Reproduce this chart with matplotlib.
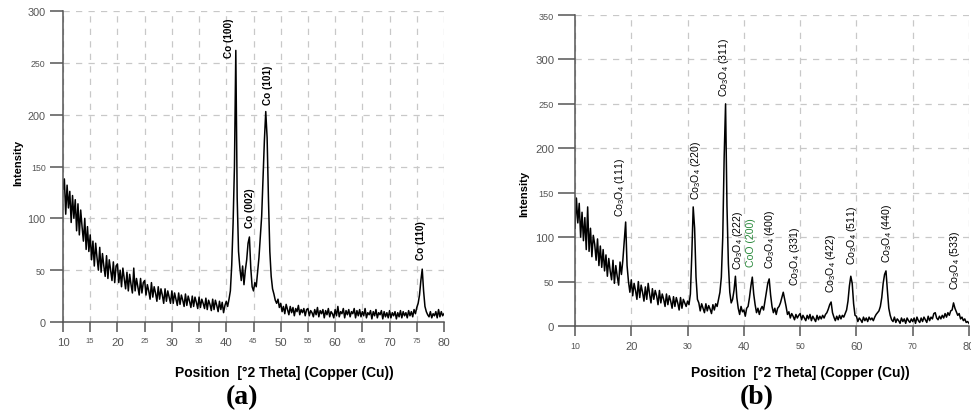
import numpy as np
import matplotlib
matplotlib.use('Agg')
import matplotlib.pyplot as plt

plt.rcParams['font.family'] = ['Liberation Sans', 'DejaVu Sans']
plt.rcParams['mathtext.default'] = 'regular'

# ---------------- data ----------------
SCAN_START = 10.0   # deg 2theta
SCAN_STEP = 0.25    # deg 2theta

# (a) Co sample, intensity read every 0.25 deg from 10 to 80
intensity_a = [
    128, 138, 104, 132, 110, 126, 96, 122, 100, 118, 88, 114, 84, 108, 92, 78, 100, 70, 92, 68,
    84, 60, 78, 54, 76, 62, 50, 72, 48, 66, 54, 44, 64, 42, 60, 50, 40, 58, 38, 54,
    56, 38, 50, 34, 52, 42, 32, 48, 30, 46, 36, 28, 52, 30, 42, 34, 26, 42, 28, 38,
    40, 26, 36, 30, 22, 38, 24, 34, 28, 20, 34, 22, 32, 26, 18, 32, 20, 30, 24, 18,
    30, 18, 28, 22, 16, 28, 17, 26, 21, 15, 27, 16, 25, 20, 14, 25, 15, 24, 19, 13,
    24, 14, 22, 18, 13, 23, 12, 21, 17, 11, 22, 12, 21, 16, 10, 20, 12, 19, 9, 16,
    20, 15, 22, 30, 55, 95, 150, 262, 120, 68, 52, 40, 54, 36, 50, 60, 76, 82, 52, 34,
    30, 38, 34, 48, 62, 82, 102, 140, 175, 203, 178, 118, 68, 44, 32, 27, 21, 18, 22, 14,
    18, 10, 15, 8, 17, 12, 7, 15, 9, 14, 6, 13, 10, 16, 7, 12, 9, 13, 6, 12,
    13, 6, 11, 9, 5, 12, 7, 14, 5, 11, 8, 12, 4, 11, 7, 13, 5, 10, 8, 4,
    12, 6, 15, 5, 10, 8, 13, 4, 11, 7, 12, 5, 10, 8, 13, 4, 11, 6, 12, 5,
    10, 6, 13, 4, 9, 7, 11, 3, 10, 6, 12, 4, 9, 7, 11, 3, 10, 5, 9, 4,
    11, 4, 9, 6, 10, 3, 9, 5, 11, 4, 10, 6, 9, 4, 11, 6, 10, 5, 12, 8,
    14, 18, 26, 40, 51, 30, 15, 10, 7, 5, 10, 4, 8, 6, 10, 4, 12, 5, 10, 6,
    8,
]

# (b) Co3O4 sample, intensity read every 0.25 deg from 10 to 80
intensity_b = [
    110, 144, 116, 138, 100, 128, 96, 122, 86, 134, 84, 110, 78, 102, 92, 74, 98, 68, 90, 66,
    86, 62, 80, 56, 76, 62, 52, 74, 48, 68, 56, 46, 72, 58, 74, 96, 117, 68, 50, 38,
    52, 34, 48, 40, 30, 50, 32, 46, 38, 28, 44, 30, 48, 36, 26, 42, 30, 40, 34, 24,
    40, 26, 36, 30, 22, 36, 24, 34, 28, 20, 33, 22, 32, 26, 18, 32, 20, 30, 26, 22,
    28, 24, 36, 80, 134, 110, 55, 30, 26, 17, 25, 20, 15, 25, 17, 23, 19, 14, 24, 18,
    25, 22, 30, 38, 55, 100, 190, 250, 135, 70, 38, 26, 30, 40, 56, 32, 20, 13, 22, 16,
    18, 11, 20, 22, 32, 45, 55, 36, 24, 15, 20, 13, 19, 22, 18, 28, 38, 48, 53, 35,
    22, 15, 20, 13, 20, 22, 26, 32, 38, 30, 22, 13, 16, 9, 14, 11, 7, 13, 9, 12,
    14, 7, 12, 9, 6, 12, 8, 13, 6, 11, 8, 5, 12, 7, 11, 8, 12, 9, 13, 15,
    19, 24, 27, 15, 10, 6, 11, 7, 12, 8, 12, 10, 14, 18, 28, 45, 56, 48, 25, 12,
    11, 5, 9, 7, 4, 10, 6, 9, 5, 10, 7, 9, 6, 10, 13, 15, 17, 22, 32, 48,
    58, 62, 40, 20, 12, 7, 5, 10, 4, 8, 6, 3, 9, 5, 8, 3, 9, 6, 4, 8,
    5, 9, 3, 10, 6, 4, 9, 5, 10, 7, 4, 11, 6, 10, 8, 14, 15, 9, 7, 11,
    8, 12, 9, 14, 10, 15, 12, 17, 18, 26, 20, 16, 12, 14, 8, 10, 6, 8, 4, 5,
    3,
]

labels_a = ['Co (100)', 'Co (002)', 'Co (101)', 'Co (110)']
labels_b = ['Co$_3$O$_4$ (111)', 'Co$_3$O$_4$ (220)', 'Co$_3$O$_4$ (311)',
            'Co$_3$O$_4$ (222)', 'CoO (200)', 'Co$_3$O$_4$ (400)',
            'Co$_3$O$_4$ (331)', 'Co$_3$O$_4$ (422)', 'Co$_3$O$_4$ (511)',
            'Co$_3$O$_4$ (440)', 'Co$_3$O$_4$ (533)']

xticks_a = [10, 15, 20, 25, 30, 35, 40, 45, 50, 55, 60, 65, 70, 75, 80]
yticks_a = [0, 50, 100, 150, 200, 250, 300]
xticks_b = [10, 20, 30, 40, 50, 60, 70, 80]
yticks_b = [0, 50, 100, 150, 200, 250, 300, 350]

# ---------------- layout / style ----------------
W, H = 971, 414
# label anchors (x, y-bottom) in data coords
anchors_a = [(40.5, 256), (44.35, 92), (47.6, 210), (75.7, 61)]
anchors_b = [(18.0, 124), (31.5, 143), (36.5, 259), (38.9, 64), (41.3, 67),
             (44.7, 65), (49.1, 46), (55.4, 38), (59.3, 70), (65.5, 72), (77.6, 42)]
colors_b = ['black'] * 4 + ['#2a8a3c'] + ['black'] * 6

AX_GRAY = '#555555'
GRID_GRAY = '#c8c8c8'

fig = plt.figure(figsize=(W / 100, H / 100), dpi=100)
ax1 = fig.add_axes([63 / W, 1 - 323 / H, (444 - 63) / W, (323 - 12) / H])
ax2 = fig.add_axes([575 / W, 1 - 327 / H, (969 - 575) / W, (327 - 16) / H])


def style_axes(ax, xt, yt, ylim, xsmall, ysmall, xbig_fs, xsmall_fs, ybig_fs, ysmall_fs, ytick_len):
    ax.set_xlim(10, 80)
    ax.set_ylim(*ylim)
    ax.set_xticks(xt, [str(v) for v in xt])
    ax.set_yticks(yt, [str(v) for v in yt])
    for lab, v in zip(ax.get_xticklabels(), xt):
        lab.set_fontsize(xsmall_fs if v in xsmall else xbig_fs)
        lab.set_color(AX_GRAY)
    for lab, v in zip(ax.get_yticklabels(), yt):
        lab.set_fontsize(ysmall_fs if v in ysmall else ybig_fs)
        lab.set_color(AX_GRAY)
    for s in ['top', 'right']:
        ax.spines[s].set_visible(False)
    for s in ['left', 'bottom']:
        ax.spines[s].set_color(AX_GRAY)
        ax.spines[s].set_linewidth(1.1)
    ax.tick_params(axis='y', direction='out', length=ytick_len, width=1.1, color=AX_GRAY, pad=3)
    ax.tick_params(axis='x', direction='out', length=7, width=1.1, color=AX_GRAY, pad=4)
    ax.set_axisbelow(True)
    ax.grid(True, color=GRID_GRAY, linestyle=(0, (5, 5)), linewidth=0.9)


tt_a = SCAN_START + SCAN_STEP * np.arange(len(intensity_a))
tt_b = SCAN_START + SCAN_STEP * np.arange(len(intensity_b))

ax1.plot(tt_a, intensity_a, color='black', linewidth=1.1)
ax2.plot(tt_b, intensity_b, color='black', linewidth=1.1)

style_axes(ax1, xticks_a, yticks_a, (0, 300), [15, 25, 35, 45, 55, 65, 75], [50, 150, 250],
           8.2, 5.5, 7.8, 6.3, 9.5)
style_axes(ax2, xticks_b, yticks_b, (0, 350), [10, 30, 50, 70], [50, 150, 250, 350],
           8.0, 6.3, 8.2, 6.6, 12)

for lab, (x, y) in zip(labels_a, anchors_a):
    ax1.text(x, y, lab, rotation=90, ha='center', va='bottom', fontsize=7.2,
             fontweight='bold', color='black')
for lab, (x, y), c in zip(labels_b, anchors_b, colors_b):
    ax2.text(x, y, lab, rotation=90, ha='center', va='bottom', fontsize=7.6,
             color=c)

for (x, y) in [(18, 162.5), (524.5, 194)]:
    fig.text(x / W, 1 - y / H, 'Intensity', rotation=90, ha='center', va='center',
             fontsize=8, fontweight='bold')
for x in [284, 800.8]:
    fig.text(x / W, 1 - 372.7 / H, 'Position  [\u00b02 Theta] (Copper (Cu))',
             ha='center', va='center', fontsize=10, fontweight='bold')
for x, t in [(242, '(a)'), (756.7, '(b)')]:
    fig.text(x / W, 1 - 397.5 / H, t, ha='center', va='center', fontsize=20,
             fontweight='bold', family=['Liberation Serif', 'DejaVu Serif'])

fig.savefig('out.png', dpi=100)
